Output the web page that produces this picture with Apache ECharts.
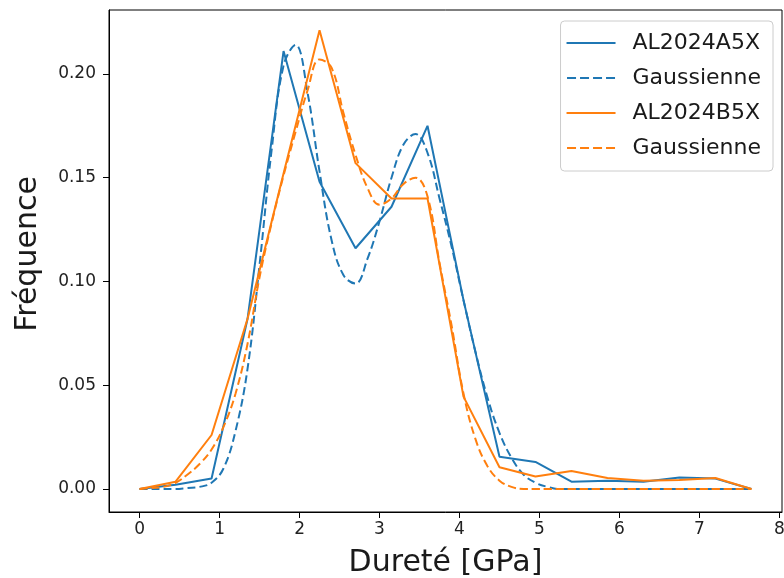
<!DOCTYPE html>
<html>
<head>
<meta charset="utf-8">
<script src="https://cdn.jsdelivr.net/npm/echarts@6/dist/echarts.min.js"></script>
<style>
html,body{margin:0;padding:0;background:#fff;}
#chart{width:784px;height:578px;}
</style>
</head>
<body>
<div id="chart"></div>
<script>
// Histogram bins (GPa) and measured frequencies
var bins = [0, 0.45, 0.9, 1.35, 1.8, 2.25, 2.7, 3.15, 3.6, 4.05, 4.5, 4.95, 5.4, 5.85, 6.3, 6.75, 7.2, 7.65];
var freqA = [0, 0.002, 0.005, 0.082, 0.211, 0.148, 0.116, 0.136, 0.175, 0.091, 0.0155, 0.013, 0.0035, 0.004, 0.0035, 0.0055, 0.005, 0];
var freqB = [0, 0.0035, 0.026, 0.082, 0.152, 0.221, 0.157, 0.140, 0.140, 0.0445, 0.0105, 0.006, 0.0087, 0.0053, 0.004, 0.0043, 0.0053, 0];

// Gaussian fit curves
var gx = [0, 0.15, 0.3, 0.45, 0.6, 0.75, 0.9, 1.05, 1.2, 1.35, 1.5, 1.65, 1.8, 1.95, 2.1, 2.25, 2.4, 2.55, 2.7, 2.85,
          3.0, 3.15, 3.3, 3.45, 3.6, 3.75, 3.9, 4.05, 4.2, 4.35, 4.5, 4.65, 4.8, 4.95, 5.1, 5.25, 5.4, 5.55, 5.7, 5.85,
          6.0, 6.15, 6.3, 6.45, 6.6, 6.75, 6.9, 7.05, 7.2, 7.35, 7.5, 7.65];
var gaussA = [0, 0, 0, 0, 0.0005, 0.001, 0.003, 0.010, 0.028, 0.058, 0.108, 0.163, 0.204, 0.214, 0.191, 0.153, 0.120, 0.103, 0.099, 0.111,
              0.129, 0.150, 0.166, 0.171, 0.162, 0.140, 0.117, 0.091, 0.066, 0.044, 0.027, 0.015, 0.007, 0.003, 0.001, 0, 0, 0, 0, 0,
              0, 0, 0, 0, 0, 0, 0, 0, 0, 0, 0, 0];
var gaussB = [0, 0.0005, 0.001, 0.003, 0.007, 0.012, 0.019, 0.030, 0.046, 0.070, 0.102, 0.128, 0.151, 0.172, 0.192, 0.207, 0.203, 0.181, 0.161, 0.145,
              0.137, 0.140, 0.147, 0.150, 0.141, 0.109, 0.079, 0.046, 0.024, 0.011, 0.004, 0.001, 0, 0, 0, 0, 0, 0, 0, 0,
              0, 0, 0, 0, 0, 0, 0, 0, 0, 0, 0, 0];

var xTicks = [0, 1, 2, 3, 4, 5, 6, 7, 8];
var yTicks = [0, 0.05, 0.10, 0.15, 0.20];
var names = ['AL2024A5X', 'Gaussienne', 'AL2024B5X', 'Gaussienne\u200b'];

function pairs(xs, ys) { return xs.map(function (x, i) { return [x, ys[i]]; }); }

var BLUE = '#1f77b4', ORANGE = '#ff7f0e';
var FONT = 'DejaVu Sans';
var SOLID_ICON = 'path://M0 0H49V2H0Z';
var DASH_ICON = 'path://M0 0H9V2H0Z M13 0H22V2H13Z M26 0H35V2H26Z M39 0H48V2H39Z';

var chart = echarts.init(document.getElementById('chart'), null, {renderer: 'canvas'});
chart.setOption({
  animation: false,
  backgroundColor: '#fff',
  textStyle: {fontFamily: FONT},
  grid: {left: 109, right: 2, top: 10, bottom: 66, containLabel: false, outerBoundsMode: 'none',
         show: true, borderColor: '#000', borderWidth: 1, backgroundColor: 'transparent'},
  legend: {
    orient: 'vertical', right: 11, top: 21,
    padding: [11, 12, 12, 6],
    itemWidth: 49, itemHeight: 2, itemGap: 13,
    borderColor: '#cccccc', borderWidth: 1, borderRadius: 4,
    backgroundColor: 'rgba(255,255,255,0.8)',
    itemStyle: {borderWidth: 0},
    textStyle: {fontFamily: FONT, fontSize: 22, color: '#1a1a1a', lineHeight: 22, padding: [0, 0, 0, 12]},
    data: [
      {name: names[0], icon: SOLID_ICON},
      {name: names[1], icon: DASH_ICON},
      {name: names[2], icon: SOLID_ICON},
      {name: names[3], icon: DASH_ICON}
    ]
  },
  xAxis: {
    type: 'value', min: -0.3825, max: 8.0325,
    name: 'Dureté [GPa]', nameLocation: 'middle', nameGap: 36,
    nameTextStyle: {fontFamily: FONT, fontSize: 30, color: '#1a1a1a'},
    axisLine: {show: true, onZero: false, lineStyle: {color: '#000', width: 1}},
    axisTick: {show: true, inside: false, length: 6, lineStyle: {color: '#000'}, customValues: xTicks},
    axisLabel: {show: true, margin: 9, fontFamily: FONT, fontSize: 17, color: '#222', customValues: xTicks,
                formatter: function (v) { return String(v); }},
    splitLine: {show: false}
  },
  yAxis: {
    type: 'value', min: -0.0111, max: 0.2308,
    name: 'Fréquence', nameLocation: 'middle', nameGap: 66, nameRotate: 90,
    nameTextStyle: {fontFamily: FONT, fontSize: 30, color: '#1a1a1a', padding: [0, 0, 0, 14]},
    axisLine: {show: true, onZero: false, lineStyle: {color: '#000', width: 1}},
    axisTick: {show: true, inside: false, length: 6, lineStyle: {color: '#000'}, customValues: yTicks},
    axisLabel: {show: true, margin: 13, fontFamily: FONT, fontSize: 17, color: '#222', customValues: yTicks,
                formatter: function (v) { return v.toFixed(2); }},
    splitLine: {show: false}
  },
  series: [
    {name: names[0], type: 'line', data: pairs(bins, freqA), symbol: 'none', color: BLUE,
     lineStyle: {color: BLUE, width: 2}, z: 2},
    {name: names[1], type: 'line', data: pairs(gx, gaussA), symbol: 'none', smooth: 0.4, color: BLUE,
     lineStyle: {color: BLUE, width: 2, type: [8, 4]}, z: 3},
    {name: names[2], type: 'line', data: pairs(bins, freqB), symbol: 'none', color: ORANGE,
     lineStyle: {color: ORANGE, width: 2}, z: 4},
    {name: names[3], type: 'line', data: pairs(gx, gaussB), symbol: 'none', smooth: 0.4, color: ORANGE,
     lineStyle: {color: ORANGE, width: 2, type: [8, 4]}, z: 5}
  ]
});
</script>
</body>
</html>
